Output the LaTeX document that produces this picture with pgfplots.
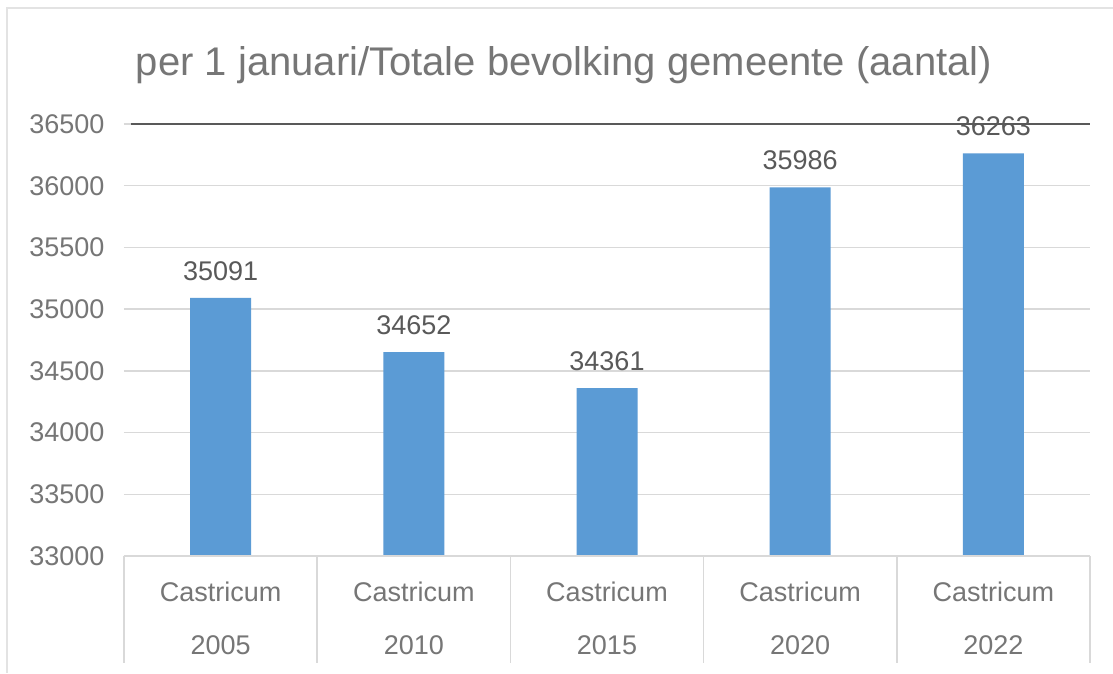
\documentclass[border=0pt]{standalone}
\usepackage{fontspec}
\setmainfont{Liberation Sans}
\usepackage{pgfplots}
\pgfplotsset{compat=1.18}
\definecolor{barblue}{HTML}{5B9BD5}
\definecolor{txtgray}{HTML}{767676}
\definecolor{lblgray}{HTML}{595959}
\definecolor{gridgray}{HTML}{D9D9D9}
\definecolor{bordergray}{HTML}{E3E3E3}
\definecolor{topline}{HTML}{595959}
\begin{document}
\begin{tikzpicture}
\path[use as bounding box] (-124pt,-117pt) rectangle (989pt,556pt);
\fill[white] (-124pt,-117pt) rectangle (989pt,556pt);
\draw[bordergray, line width=2pt] (-117pt,-117pt) -- (-117pt,547.5pt) -- (995pt,547.5pt);
\begin{axis}[
  at={(0,0)}, anchor=south west,
  scale only axis, width=966pt, height=432pt,
  xmin=-0.5, xmax=4.5, ymin=33000, ymax=36500,
  ytick={33000,33500,...,36500},
  scaled y ticks=false,
  xtick={0,1,2,3,4},
  xticklabels={Castricum\\2005,Castricum\\2010,Castricum\\2015,Castricum\\2020,Castricum\\2022},
  axis line style={draw=none},
  major tick length=0pt,
  clip mode=individual,
  ymajorgrids, grid style={gridgray, line width=1.5pt},
  /pgf/number format/assume math mode=true,
  yticklabel style={font=\fontsize{27}{27}\selectfont, text=txtgray, /pgf/number format/1000 sep={}, xshift=-16pt},
  xticklabel style={align=center, font=\fontsize{27}{53.3}\selectfont, text=txtgray, yshift=-22pt},
  ybar, bar width=61pt,
  nodes near coords,
  every node near coord/.append style={font=\fontsize{27}{27}\selectfont, text=lblgray, /pgf/number format/1000 sep={}, yshift=14pt},
]
\addplot[fill=barblue, draw=none] coordinates {(0,35091) (1,34652) (2,34361) (3,35986) (4,36263)};
\draw[gridgray, line width=1.5pt] (axis cs:-0.5,33000) -- (axis cs:4.5,33000);
\pgfplotsinvokeforeach{-0.5,0.5,1.5,2.5,3.5,4.5}{
  \draw[gridgray, line width=1.5pt] (axis cs:#1,33000) -- ([yshift=-107pt]axis cs:#1,33000);
}
\draw[topline, line width=1.5pt] ([xshift=7pt]axis cs:-0.5,36500) -- (axis cs:4.5,36500);
\end{axis}
\node[anchor=base, text=txtgray, font=\fontsize{40}{40}\selectfont, inner sep=0pt] at (440pt,480pt) {per 1 januari/Totale bevolking gemeente (aantal)};
\end{tikzpicture}
\end{document}
